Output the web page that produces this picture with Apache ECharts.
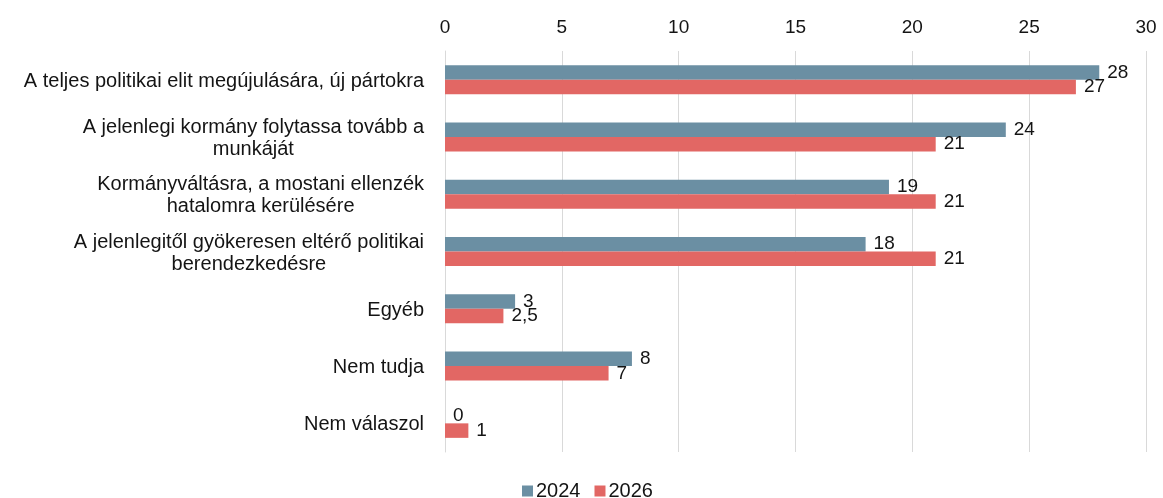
<!DOCTYPE html>
<html>
<head>
<meta charset="utf-8">
<script src="https://cdn.jsdelivr.net/npm/echarts@6/dist/echarts.min.js"></script>
<style>
  html, body { margin: 0; padding: 0; background: #fff; }
  #main { width: 1163px; height: 498px; }
</style>
</head>
<body>
<div id="main"></div>
<script>
// data
const categories = [
  'A teljes politikai elit megújulására, új pártokra',
  'A jelenlegi kormány folytassa tovább a\nmunkáját',
  'Kormányváltásra, a mostani ellenzék\nhatalomra kerülésére',
  'A jelenlegitől gyökeresen eltérő politikai\nberendezkedésre',
  'Egyéb',
  'Nem tudja',
  'Nem válaszol'
];
const values2024 = [28, 24, 19, 18, 3, 8, 0];
const values2026 = [27, 21, 21, 21, 2.5, 7, 1];
const xTicks = { min: 0, max: 30, interval: 5 };

const font = '"Liberation Sans", Arial, sans-serif';
const txt = '#141414';

const chart = echarts.init(document.getElementById('main'));

const labelStyle = {
  show: true,
  position: 'right',
  distance: 8,
  fontFamily: font,
  fontSize: 19,
  color: txt,
  formatter: p => String(p.value).replace('.', ',')
};

chart.setOption({
  animation: false,
  textStyle: { fontFamily: font },
  grid: { left: 445, right: 17, top: 51, height: 401 },
  legend: {
    top: 476,
    left: 517,
    icon: 'rect',
    itemWidth: 11,
    itemHeight: 11,
    itemGap: 14,
    textStyle: { fontFamily: font, fontSize: 20, color: txt, padding: [0, 0, 0, -2] },
    data: ['2024', '2026']
  },
  xAxis: {
    type: 'value',
    position: 'top',
    min: xTicks.min,
    max: xTicks.max,
    interval: xTicks.interval,
    axisLine: { show: false },
    axisTick: { show: false },
    axisLabel: { margin: 14, fontFamily: font, fontSize: 19, color: txt },
    splitLine: { lineStyle: { color: '#d9d9d9', width: 1 } }
  },
  yAxis: {
    type: 'category',
    inverse: true,
    data: categories,
    axisLine: { show: true, lineStyle: { color: '#d9d9d9' } },
    axisTick: { show: false },
    axisLabel: {
      margin: 21,
      fontFamily: font,
      fontSize: 20,
      color: txt,
      lineHeight: 22,
      padding: [3, 0, 0, 0],
      formatter: v => v.split('\n').map(l => '{c|' + l + '}').join('\n'),
      rich: { c: { align: 'center', fontFamily: font, fontSize: 20, color: txt, lineHeight: 22 } }
    }
  },
  series: [
    {
      name: '2024',
      type: 'bar',
      data: values2024,
      barWidth: 14.5,
      barGap: '0%',
      itemStyle: { color: '#6b8fa3' },
      label: labelStyle
    },
    {
      name: '2026',
      type: 'bar',
      data: values2026,
      barWidth: 14.5,
      barGap: '0%',
      itemStyle: { color: '#e26764' },
      label: labelStyle
    }
  ]
});
</script>
</body>
</html>
